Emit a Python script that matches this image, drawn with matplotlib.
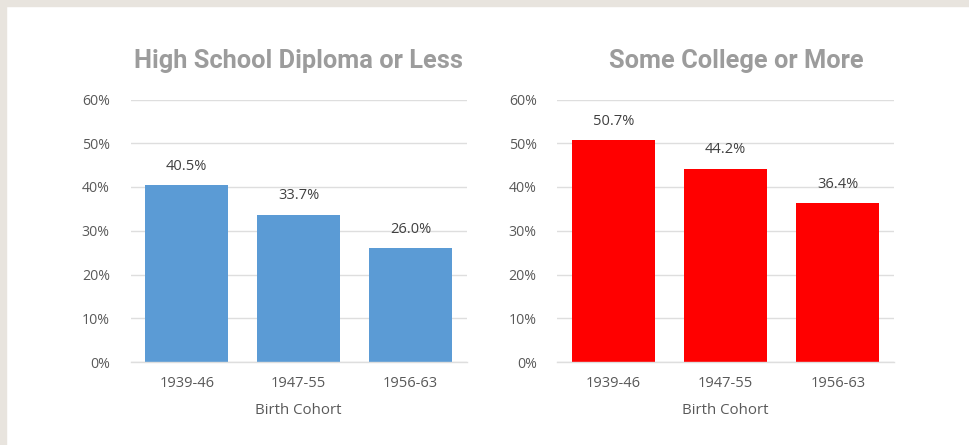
import numpy as np
import matplotlib
matplotlib.use('Agg')
import matplotlib.pyplot as plt

# data
cohorts = ['1939-46', '1947-55', '1956-63']
hs_or_less = [40.5, 33.7, 26.0]
college_or_more = [50.7, 44.2, 36.4]
titles = ['High School Diploma or Less', 'Some College or More']
yticks = [0, 10, 20, 30, 40, 50, 60]

fig = plt.figure(figsize=(9.7, 4.45), dpi=100)
fig.patch.set_facecolor('white')

# beige frame on top and left
fig.patches.append(plt.Rectangle((0, 1 - 6 / 445), 1, 6 / 445, transform=fig.transFigure,
                                 color='#e8e4de', zorder=0))
fig.patches.append(plt.Rectangle((0, 0), 6 / 970, 1, transform=fig.transFigure,
                                 color='#e8e4de', zorder=0))

font = 'Open Sans'
panels = [
    (hs_or_less, '#5b9bd5', [130.7 / 970, 1 - 362 / 445, 336 / 970, 262.5 / 445], 298),
    (college_or_more, '#ff0000', [557.5 / 970, 1 - 362 / 445, 336.5 / 970, 262.5 / 445], 736),
]

for (vals, color, pos, tx), title in zip(panels, titles):
    ax = fig.add_axes(pos)
    x = np.arange(len(cohorts))
    ax.bar(x, vals, width=0.74, color=color, zorder=2)
    ax.set_xlim(-0.5, 2.5)
    ax.set_ylim(0, 60)
    ax.set_yticks(yticks)
    ax.set_yticklabels([f'{t}%' for t in yticks], fontsize=10.2, color='#595959', family=font)
    ax.set_xticks(x)
    ax.set_xticklabels(cohorts, fontsize=10.5, color='#595959', family=font)
    ax.tick_params(length=0, pad=15, axis='y')
    ax.tick_params(length=0, pad=10, axis='x')
    ax.grid(axis='y', color='#dedede', linewidth=1.0, zorder=0)
    for s in ['top', 'right', 'left']:
        ax.spines[s].set_visible(False)
    ax.spines['bottom'].set_color('#dedede')
    ax.spines['bottom'].set_linewidth(1.0)
    ax.set_xlabel('Birth Cohort', fontsize=10.8, color='#595959', family=font, labelpad=9)
    for xi, v in zip(x, vals):
        ax.annotate(f'{v:.1f}%', (xi, v), xytext=(0, 13.5), textcoords='offset points',
                    ha='center', va='center', fontsize=10.5, color='#404040', family=font)
    fig.text(tx / 970, 1 - 68 / 445, title, ha='center', va='baseline', fontsize=18.3,
             fontweight='bold', color='#9c9c9c', family='Roboto')

fig.savefig('out.png', dpi=100, facecolor='white')
